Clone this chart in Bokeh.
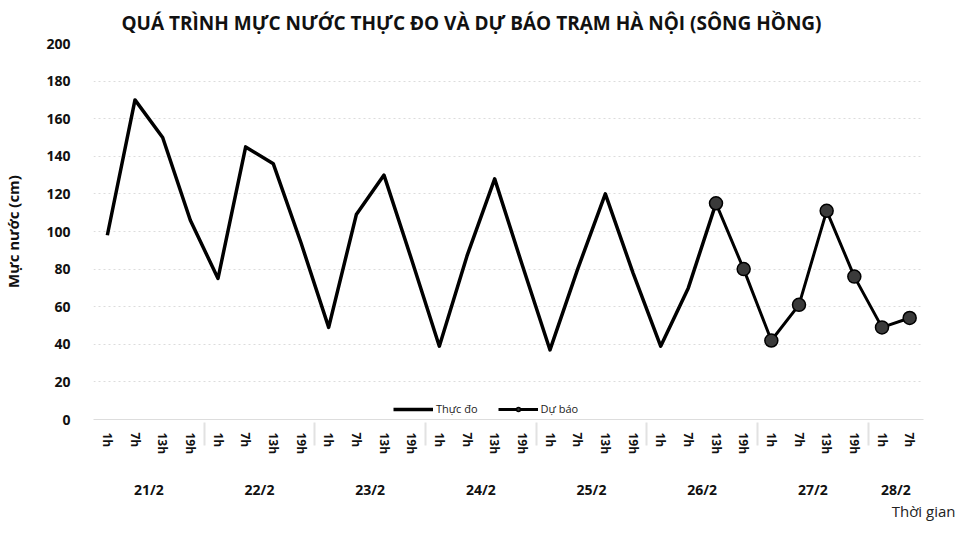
from bokeh.plotting import figure
from bokeh.models import (FactorRange, Range1d, Legend, LegendItem, Title, CategoricalAxis,
                          SingleIntervalTicker)
from bokeh.embed import file_html
from bokeh.resources import INLINE

# ---- data ----
dates = ["21/2", "22/2", "23/2", "24/2", "25/2", "26/2", "27/2", "28/2"]
hours = ["1h", "7h", "13h", "19h"]
hours_last_day = ["1h", "7h"]

measured = [98, 170, 150, 106, 75, 145, 136, 94, 49, 109, 130, 85,
            39, 87, 128, 82, 37, 80, 120, 78, 39, 70, 115]
forecast = [115, 80, 42, 61, 111, 76, 49, 54]

title_text = "QUÁ TRÌNH MỰC NƯỚC THỰC ĐO VÀ DỰ BÁO TRẠM HÀ NỘI (SÔNG HỒNG)"
y_label = "Mực nước (cm)"
x_label = "Thời gian"
legend_labels = ["Thực đo", "Dự báo"]

# ---- build factors ----
day_hours = [hours] * (len(dates) - 1) + [hours_last_day]
factors = [(d, h) for d, hs in zip(dates, day_hours) for h in hs]
meas_x = factors[:len(measured)]
fc_x = factors[len(factors) - len(forecast):]

FONT = "Open Sans"
INK = "#111111"

p = figure(width=959, height=525, output_backend="svg", toolbar_location=None,
           x_range=FactorRange(*factors, range_padding=0, group_padding=0, factor_padding=0),
           y_range=Range1d(0, 200))

p.min_border_left = 89
p.min_border_right = 36
p.min_border_top = 35
p.min_border_bottom = 106
p.outline_line_color = None

p.title.text = title_text
p.title.align = "left"
p.title.offset = 28
p.title.text_font = FONT
p.title.text_font_size = "19px"
p.title.text_font_style = "bold"
p.title.text_color = INK
p.title.standoff = 15

# y axis
p.yaxis.ticker = SingleIntervalTicker(interval=20)
p.yaxis.axis_line_color = None
p.yaxis.major_tick_line_color = None
p.yaxis.minor_tick_line_color = None
p.yaxis.major_label_text_font = FONT
p.yaxis.major_label_text_font_size = "14px"
p.yaxis.major_label_text_font_style = "bold"
p.yaxis.major_label_text_color = INK
p.yaxis.major_label_standoff = 17
p.yaxis.axis_label = y_label
p.yaxis.axis_label_text_font = FONT
p.yaxis.axis_label_text_font_size = "15px"
p.yaxis.axis_label_text_font_style = "bold"
p.yaxis.axis_label_text_color = INK
p.yaxis.axis_label_standoff = 20

# x axis: hours row (nested factors; day row drawn by a second axis)
xa = p.xaxis[0]
xa.axis_line_color = "#dddddd"
xa.major_tick_line_color = None
xa.major_label_orientation = "vertical"
xa.major_label_text_font = FONT
xa.major_label_text_font_size = "12px"
xa.major_label_text_font_style = "bold"
xa.major_label_text_color = INK
xa.major_label_standoff = 7
xa.group_text_font_size = "1px"
xa.group_text_alpha = 0
xa.separator_line_color = "#e2e2e2"

# day labels row: second categorical axis on the same range, only group labels shown
day_axis = CategoricalAxis(axis_line_color=None, major_tick_line_color=None,
                           major_label_text_font_size="1px", major_label_text_alpha=0,
                           major_label_standoff=16,
                           group_text_font=FONT, group_text_font_size="14px",
                           group_text_font_style="bold", group_text_color=INK,
                           separator_line_color=None)
p.add_layout(day_axis, "below")

p.add_layout(Title(text=x_label, align="right", text_font=FONT, text_font_size="15px",
                   text_font_style="normal", text_color="#222222", standoff=-6, offset=-32), "below")

p.xgrid.grid_line_color = None
p.ygrid.grid_line_color = "#dcdcdc"
p.ygrid.grid_line_dash = "2 3"

r_meas = p.line(x=meas_x, y=measured, line_color="black", line_width=3.5, line_join="round")
r_fc_line = p.line(x=fc_x, y=forecast, line_color="black", line_width=3, line_join="round")
r_fc_pts = p.scatter(x=fc_x, y=forecast, size=13, fill_color="#3a3a3a", line_color="black", line_width=1.5)

legend = Legend(items=[LegendItem(label=legend_labels[0], renderers=[r_meas]),
                       LegendItem(label=legend_labels[1], renderers=[r_fc_line, r_fc_pts])],
                orientation="horizontal", location=(300, 3),
                label_text_font=FONT, label_text_font_size="11px", label_text_color="#222222",
                border_line_color=None, background_fill_alpha=0,
                glyph_width=40, glyph_height=10, spacing=20, padding=0, margin=0,
                label_standoff=3, label_height=12)
p.add_layout(legend, "center")

open("out.html", "w").write(file_html(p, INLINE))
